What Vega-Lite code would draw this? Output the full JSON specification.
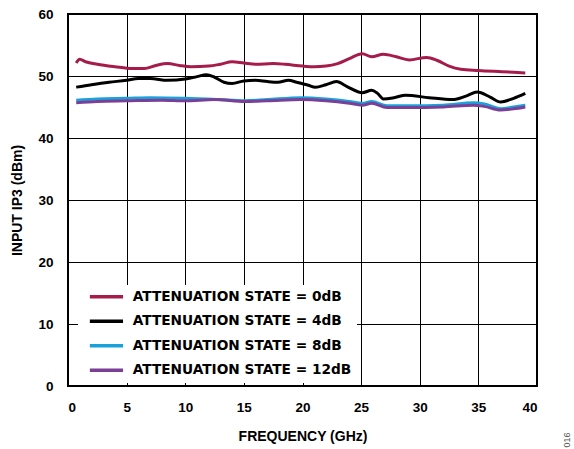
{
  "$schema": "https://vega.github.io/schema/vega-lite/v6.json",
  "width": 469,
  "height": 372,
  "autosize": "none",
  "padding": {"left": 68, "top": 14, "right": 37, "bottom": 63},
  "background": "white",
  "title": {"text": "016", "orient": "right", "anchor": "end", "angle": 270, "fontSize": 9, "fontWeight": "normal", "color": "#555555", "font": "Liberation Sans", "offset": 20, "dy": -3, "dx": 11},
  "config": {
    "view": {"stroke": "black", "strokeWidth": 2},
    "font": "Liberation Sans",
    "axis": {
      "domain": false,
      "ticks": false,
      "grid": true,
      "gridColor": "black",
      "gridWidth": 1,
      "gridOpacity": 1,
      "labelFont": "Liberation Sans",
      "labelFontWeight": "bold",
      "labelFontSize": 13.5,
      "labelColor": "black",
      "titleFont": "Liberation Sans",
      "titleFontWeight": "bold",
      "titleFontSize": 14,
      "titleColor": "black"
    }
  },
  "data": {"values": [
    {"f": 0.7, "v": 52.1, "s": "ATTENUATION STATE = 0dB"},
    {"f": 1.0, "v": 52.7, "s": "ATTENUATION STATE = 0dB"},
    {"f": 1.5, "v": 52.3, "s": "ATTENUATION STATE = 0dB"},
    {"f": 2.5, "v": 51.9, "s": "ATTENUATION STATE = 0dB"},
    {"f": 4, "v": 51.5, "s": "ATTENUATION STATE = 0dB"},
    {"f": 5.5, "v": 51.2, "s": "ATTENUATION STATE = 0dB"},
    {"f": 6.5, "v": 51.2, "s": "ATTENUATION STATE = 0dB"},
    {"f": 7.5, "v": 51.7, "s": "ATTENUATION STATE = 0dB"},
    {"f": 8.5, "v": 52.0, "s": "ATTENUATION STATE = 0dB"},
    {"f": 9.5, "v": 51.7, "s": "ATTENUATION STATE = 0dB"},
    {"f": 10.5, "v": 51.5, "s": "ATTENUATION STATE = 0dB"},
    {"f": 12, "v": 51.6, "s": "ATTENUATION STATE = 0dB"},
    {"f": 13, "v": 51.9, "s": "ATTENUATION STATE = 0dB"},
    {"f": 14, "v": 52.3, "s": "ATTENUATION STATE = 0dB"},
    {"f": 15, "v": 52.1, "s": "ATTENUATION STATE = 0dB"},
    {"f": 16, "v": 51.9, "s": "ATTENUATION STATE = 0dB"},
    {"f": 17.5, "v": 52.0, "s": "ATTENUATION STATE = 0dB"},
    {"f": 18.5, "v": 51.9, "s": "ATTENUATION STATE = 0dB"},
    {"f": 20, "v": 51.6, "s": "ATTENUATION STATE = 0dB"},
    {"f": 21, "v": 51.5, "s": "ATTENUATION STATE = 0dB"},
    {"f": 22, "v": 51.6, "s": "ATTENUATION STATE = 0dB"},
    {"f": 23, "v": 52.0, "s": "ATTENUATION STATE = 0dB"},
    {"f": 24, "v": 52.8, "s": "ATTENUATION STATE = 0dB"},
    {"f": 25.1, "v": 53.6, "s": "ATTENUATION STATE = 0dB"},
    {"f": 25.9, "v": 53.1, "s": "ATTENUATION STATE = 0dB"},
    {"f": 26.9, "v": 53.5, "s": "ATTENUATION STATE = 0dB"},
    {"f": 28, "v": 53.1, "s": "ATTENUATION STATE = 0dB"},
    {"f": 29.1, "v": 52.6, "s": "ATTENUATION STATE = 0dB"},
    {"f": 30.6, "v": 53.0, "s": "ATTENUATION STATE = 0dB"},
    {"f": 31.5, "v": 52.5, "s": "ATTENUATION STATE = 0dB"},
    {"f": 32.5, "v": 51.6, "s": "ATTENUATION STATE = 0dB"},
    {"f": 33.5, "v": 51.1, "s": "ATTENUATION STATE = 0dB"},
    {"f": 35, "v": 50.9, "s": "ATTENUATION STATE = 0dB"},
    {"f": 37, "v": 50.7, "s": "ATTENUATION STATE = 0dB"},
    {"f": 39, "v": 50.5, "s": "ATTENUATION STATE = 0dB"},

    {"f": 0.7, "v": 48.2, "s": "ATTENUATION STATE = 4dB"},
    {"f": 2, "v": 48.6, "s": "ATTENUATION STATE = 4dB"},
    {"f": 3.5, "v": 49.0, "s": "ATTENUATION STATE = 4dB"},
    {"f": 5, "v": 49.3, "s": "ATTENUATION STATE = 4dB"},
    {"f": 6, "v": 49.6, "s": "ATTENUATION STATE = 4dB"},
    {"f": 7, "v": 49.6, "s": "ATTENUATION STATE = 4dB"},
    {"f": 8.5, "v": 49.3, "s": "ATTENUATION STATE = 4dB"},
    {"f": 10, "v": 49.5, "s": "ATTENUATION STATE = 4dB"},
    {"f": 11, "v": 49.9, "s": "ATTENUATION STATE = 4dB"},
    {"f": 11.8, "v": 50.2, "s": "ATTENUATION STATE = 4dB"},
    {"f": 12.5, "v": 49.8, "s": "ATTENUATION STATE = 4dB"},
    {"f": 13.3, "v": 49.0, "s": "ATTENUATION STATE = 4dB"},
    {"f": 14, "v": 48.8, "s": "ATTENUATION STATE = 4dB"},
    {"f": 15, "v": 49.2, "s": "ATTENUATION STATE = 4dB"},
    {"f": 16, "v": 49.3, "s": "ATTENUATION STATE = 4dB"},
    {"f": 17, "v": 49.1, "s": "ATTENUATION STATE = 4dB"},
    {"f": 17.9, "v": 49.0, "s": "ATTENUATION STATE = 4dB"},
    {"f": 18.8, "v": 49.3, "s": "ATTENUATION STATE = 4dB"},
    {"f": 19.5, "v": 49.0, "s": "ATTENUATION STATE = 4dB"},
    {"f": 20.5, "v": 48.5, "s": "ATTENUATION STATE = 4dB"},
    {"f": 21.1, "v": 48.2, "s": "ATTENUATION STATE = 4dB"},
    {"f": 22, "v": 48.6, "s": "ATTENUATION STATE = 4dB"},
    {"f": 22.9, "v": 49.1, "s": "ATTENUATION STATE = 4dB"},
    {"f": 23.8, "v": 48.3, "s": "ATTENUATION STATE = 4dB"},
    {"f": 25.1, "v": 47.3, "s": "ATTENUATION STATE = 4dB"},
    {"f": 25.9, "v": 47.7, "s": "ATTENUATION STATE = 4dB"},
    {"f": 26.4, "v": 47.2, "s": "ATTENUATION STATE = 4dB"},
    {"f": 26.9, "v": 46.3, "s": "ATTENUATION STATE = 4dB"},
    {"f": 27.8, "v": 46.5, "s": "ATTENUATION STATE = 4dB"},
    {"f": 28.8, "v": 46.9, "s": "ATTENUATION STATE = 4dB"},
    {"f": 30.8, "v": 46.5, "s": "ATTENUATION STATE = 4dB"},
    {"f": 32.8, "v": 46.2, "s": "ATTENUATION STATE = 4dB"},
    {"f": 34, "v": 46.8, "s": "ATTENUATION STATE = 4dB"},
    {"f": 34.9, "v": 47.4, "s": "ATTENUATION STATE = 4dB"},
    {"f": 36, "v": 46.6, "s": "ATTENUATION STATE = 4dB"},
    {"f": 36.9, "v": 45.8, "s": "ATTENUATION STATE = 4dB"},
    {"f": 38, "v": 46.4, "s": "ATTENUATION STATE = 4dB"},
    {"f": 39, "v": 47.2, "s": "ATTENUATION STATE = 4dB"},

    {"f": 0.7, "v": 46.1, "s": "ATTENUATION STATE = 8dB"},
    {"f": 2.5, "v": 46.3, "s": "ATTENUATION STATE = 8dB"},
    {"f": 5, "v": 46.4, "s": "ATTENUATION STATE = 8dB"},
    {"f": 7, "v": 46.5, "s": "ATTENUATION STATE = 8dB"},
    {"f": 10, "v": 46.4, "s": "ATTENUATION STATE = 8dB"},
    {"f": 12.8, "v": 46.2, "s": "ATTENUATION STATE = 8dB"},
    {"f": 15.1, "v": 46.0, "s": "ATTENUATION STATE = 8dB"},
    {"f": 17, "v": 46.2, "s": "ATTENUATION STATE = 8dB"},
    {"f": 19.9, "v": 46.5, "s": "ATTENUATION STATE = 8dB"},
    {"f": 22, "v": 46.3, "s": "ATTENUATION STATE = 8dB"},
    {"f": 24, "v": 45.9, "s": "ATTENUATION STATE = 8dB"},
    {"f": 25.1, "v": 45.6, "s": "ATTENUATION STATE = 8dB"},
    {"f": 25.9, "v": 45.9, "s": "ATTENUATION STATE = 8dB"},
    {"f": 27.2, "v": 45.2, "s": "ATTENUATION STATE = 8dB"},
    {"f": 29, "v": 45.2, "s": "ATTENUATION STATE = 8dB"},
    {"f": 32, "v": 45.3, "s": "ATTENUATION STATE = 8dB"},
    {"f": 34.6, "v": 45.7, "s": "ATTENUATION STATE = 8dB"},
    {"f": 35.5, "v": 45.5, "s": "ATTENUATION STATE = 8dB"},
    {"f": 36.9, "v": 44.7, "s": "ATTENUATION STATE = 8dB"},
    {"f": 38, "v": 45.0, "s": "ATTENUATION STATE = 8dB"},
    {"f": 39, "v": 45.3, "s": "ATTENUATION STATE = 8dB"},

    {"f": 0.7, "v": 45.7, "s": "ATTENUATION STATE = 12dB"},
    {"f": 2.5, "v": 45.9, "s": "ATTENUATION STATE = 12dB"},
    {"f": 5, "v": 46.0, "s": "ATTENUATION STATE = 12dB"},
    {"f": 8, "v": 46.1, "s": "ATTENUATION STATE = 12dB"},
    {"f": 10, "v": 46.0, "s": "ATTENUATION STATE = 12dB"},
    {"f": 12.5, "v": 46.2, "s": "ATTENUATION STATE = 12dB"},
    {"f": 15.1, "v": 45.9, "s": "ATTENUATION STATE = 12dB"},
    {"f": 17, "v": 46.0, "s": "ATTENUATION STATE = 12dB"},
    {"f": 19.9, "v": 46.2, "s": "ATTENUATION STATE = 12dB"},
    {"f": 22, "v": 46.0, "s": "ATTENUATION STATE = 12dB"},
    {"f": 24, "v": 45.6, "s": "ATTENUATION STATE = 12dB"},
    {"f": 25.1, "v": 45.3, "s": "ATTENUATION STATE = 12dB"},
    {"f": 25.9, "v": 45.6, "s": "ATTENUATION STATE = 12dB"},
    {"f": 27.2, "v": 44.9, "s": "ATTENUATION STATE = 12dB"},
    {"f": 29, "v": 44.9, "s": "ATTENUATION STATE = 12dB"},
    {"f": 32, "v": 45.0, "s": "ATTENUATION STATE = 12dB"},
    {"f": 34.6, "v": 45.3, "s": "ATTENUATION STATE = 12dB"},
    {"f": 35.5, "v": 45.1, "s": "ATTENUATION STATE = 12dB"},
    {"f": 36.9, "v": 44.5, "s": "ATTENUATION STATE = 12dB"},
    {"f": 38, "v": 44.7, "s": "ATTENUATION STATE = 12dB"},
    {"f": 39, "v": 45.0, "s": "ATTENUATION STATE = 12dB"}
  ]},
  "mark": {"type": "line", "strokeWidth": 3, "interpolate": "monotone"},
  "encoding": {
    "x": {"field": "f", "type": "quantitative", "title": "FREQUENCY (GHz)",
      "scale": {"domain": [0, 40], "nice": false},
      "axis": {"values": [0, 5, 10, 15, 20, 25, 30, 35, 40], "labelPadding": 14, "titlePadding": 16}},
    "y": {"field": "v", "type": "quantitative", "title": "INPUT IP3 (dBm)",
      "scale": {"domain": [0, 60], "nice": false},
      "axis": {"values": [0, 10, 20, 30, 40, 50, 60], "labelPadding": 15, "titlePadding": 13}},
    "color": {"field": "s", "type": "nominal",
      "sort": ["ATTENUATION STATE = 0dB", "ATTENUATION STATE = 4dB", "ATTENUATION STATE = 8dB", "ATTENUATION STATE = 12dB"],
      "scale": {"domain": ["ATTENUATION STATE = 0dB", "ATTENUATION STATE = 4dB", "ATTENUATION STATE = 8dB", "ATTENUATION STATE = 12dB"],
        "range": ["#A51C4A", "#000000", "#1BA1D9", "#7B3F97"]},
      "legend": {"title": null, "orient": "none", "legendX": 10, "legendY": 271,
        "fillColor": "white", "padding": 5, "symbolType": "M0,0H8.3", "symbolSize": 64,
        "symbolStrokeWidth": 3.5, "labelFontSize": 13.7, "labelFontWeight": "bold", "labelColor": "black",
        "labelFont": "DejaVu Sans", "labelOffset": 36, "rowPadding": 9.5, "labelLimit": 400}
    },
    "order": {"field": "s"}
  }
}
